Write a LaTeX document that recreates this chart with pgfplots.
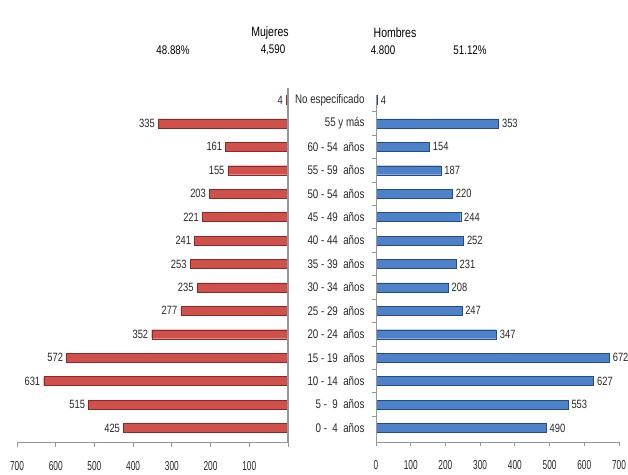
\documentclass[border=0pt]{standalone}
\usepackage{fontspec}
\setmainfont{Liberation Sans}[FakeStretch=0.78]
\newfontfamily\narrowfont{Liberation Sans}[FakeStretch=0.64]
\usepackage{pgfplots}
\usepackage{pgfplotstable}
\pgfplotsset{compat=1.18}
\definecolor{redmid}{RGB}{208,80,76}
\definecolor{redbot}{RGB}{140,40,38}
\definecolor{bluemid}{RGB}{78,130,200}
\definecolor{bluebot}{RGB}{35,75,135}
\definecolor{txt}{RGB}{40,40,40}
\definecolor{axgray}{RGB}{150,150,150}

\pgfplotstableread{
idx muj hom
0 425 490
1 515 553
2 631 627
3 572 672
4 352 347
5 277 247
6 235 208
7 253 231
8 241 252
9 221 244
10 203 220
11 155 187
12 161 154
13 335 353
14 4 4
}\datatable

\pgfplotsset{pyr/.style={
  scale only axis, height=347pt, ymin=-0.6, ymax=14.21, xmin=0, xmax=700,
  bar width=9pt,
  axis x line*=bottom,
  tick align=outside, major tick length=5pt,
  x axis line style={axgray, line width=0.8pt}, x tick style={axgray, line width=0.8pt},
  xtick={0,100,...,700},
  /pgf/number format/assume math mode=true,
  xticklabel style={font=\narrowfont\fontsize{13}{13}\selectfont, text=txt, yshift=-11pt},
  point meta=x, nodes near coords,
  nodes near coords style={font=\fontsize{12}{12}\selectfont, text=txt},
  clip=false,
}}

\begin{document}
\begin{tikzpicture}[x=1pt,y=1pt]
% left: Mujeres
\begin{axis}[pyr, width=271pt, at={(17pt,32pt)}, anchor=south west,
  x dir=reverse, axis y line=none, ytick=\empty,
  xticklabels={,100,200,300,400,500,600,700},
  every node near coord/.append style={anchor=east}]
  \addplot[xbar, draw=redbot, fill=redmid]
    table[x=muj, y=idx] \datatable;
  \draw[axgray, line width=1.3pt] (axis cs:0,-0.6) -- (axis cs:0,14.5);
\end{axis}
% right: Hombres
\begin{axis}[pyr, width=243pt, at={(376pt,32pt)}, anchor=south west,
  axis y line*=left, y axis line style={axgray, line width=1pt}, y tick style={axgray, line width=0.8pt},
  xticklabels={0,100,200,300,400,500,600,700},
  ytick={0.5,1.5,...,13.5}, yticklabels={},
  major tick length=4pt,
  extra y ticks={0,...,14},
  extra y tick labels={0 -\ \ 4\ \ años,5 -\ \ 9\ \ años,10 - 14\ \ años,15 - 19\ \ años,20 - 24\ \ años,25 - 29\ \ años,30 - 34\ \ años,35 - 39\ \ años,40 - 44\ \ años,45 - 49\ \ años,50 - 54\ \ años,55 - 59\ \ años,60 - 54\ \ años,55 y más,No especificado},
  extra y tick style={major tick length=0pt, yticklabel style={font=\fontsize{12.5}{13}\selectfont, text=txt, xshift=-8pt}}]
  \addplot[xbar, draw=bluebot, fill=bluemid]
    table[x=hom, y=idx] \datatable;
  \draw[axgray, line width=1pt] (axis cs:0,-0.6) -- (axis cs:0,14.21);
\end{axis}
% headers
\node[font=\fontsize{13.5}{14}\selectfont, text=black] at (270,441) {Mujeres};
\node[font=\fontsize{13.5}{14}\selectfont, text=black] at (395,441) {Hombres};
\node[font=\fontsize{12.5}{13}\selectfont, text=black] at (173,424) {48.88\%};
\node[font=\fontsize{12.5}{13}\selectfont, text=black] at (273,424) {4,590};
\node[font=\fontsize{12.5}{13}\selectfont, text=black] at (383,424) {4.800};
\node[font=\fontsize{12.5}{13}\selectfont, text=black] at (470,424) {51.12\%};
\pgfresetboundingbox
\path[use as bounding box] (0,0) rectangle (628,474);
\end{tikzpicture}
\end{document}
